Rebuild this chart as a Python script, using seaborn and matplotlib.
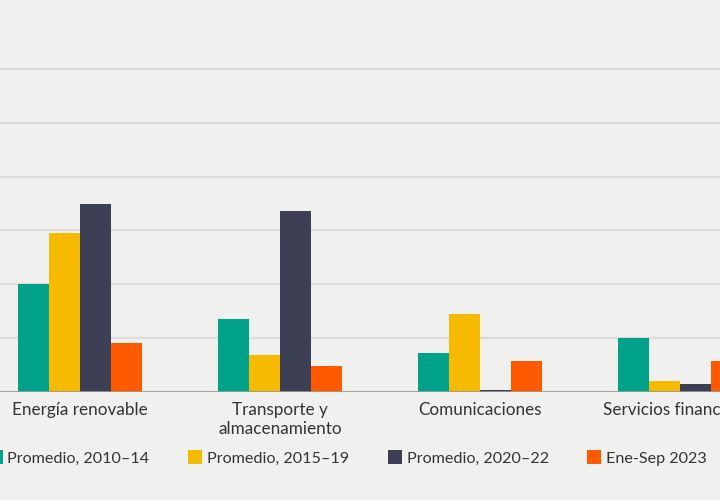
import matplotlib
matplotlib.use("Agg")
import matplotlib.pyplot as plt
import seaborn as sns
import pandas as pd

# data (grid units, one unit per gridline)
sectores = ["Energía renovable", "Transporte y\nalmacenamiento",
            "Comunicaciones", "Servicios financieros"]
periodos = ["Promedio, 2010–14", "Promedio, 2015–19",
            "Promedio, 2020–22", "Ene-Sep 2023"]
prom_2010_14 = [2.0, 1.36, 0.72, 1.0]
prom_2015_19 = [2.96, 0.69, 1.45, 0.21]
prom_2020_22 = [3.49, 3.36, 0.03, 0.14]
ene_sep_2023 = [0.91, 0.48, 0.58, 0.58]
colores = ["#00a28a", "#f6bb00", "#3d4055", "#ff5a00"]

series = [prom_2010_14, prom_2015_19, prom_2020_22, ene_sep_2023]
rows = []
for periodo, vals in zip(periodos, series):
    for sector, v in zip(sectores, vals):
        rows.append({"sector": sector, "periodo": periodo, "valor": v})
df = pd.DataFrame(rows)

bg = "#f0f1ef"
sns.set_theme(style="white")
plt.rcParams["font.family"] = ["Lato", "DejaVu Sans"]

fig = plt.figure(figsize=(7.2, 5), dpi=100, facecolor=bg)
ax = fig.add_axes([0, 0.216, 1, 0.784])
ax.set_facecolor(bg)

sns.barplot(data=df, x="sector", y="valor", hue="periodo",
            order=sectores, hue_order=periodos, palette=colores,
            width=0.62, gap=0, saturation=1, linewidth=0, ax=ax, zorder=3)

ax.set_xlim(-0.4, 3.2)
ax.set_ylim(0, 7.28)
ax.set_yticks(range(0, 7))
ax.yaxis.grid(True, color="#dcdddb", linewidth=1.6, zorder=0)
ax.axhline(0, color="#9a9a9a", linewidth=1.2, zorder=4)
for s in ax.spines.values():
    s.set_visible(False)
ax.set_xlabel("")
ax.set_ylabel("")
ax.tick_params(axis="x", length=0, pad=7, labelsize=12.3, labelcolor="#333333")
ax.tick_params(axis="y", length=0, labelleft=False)
for lab in ax.get_xticklabels():
    lab.set_linespacing(1.25)

sns.move_legend(ax, "center", bbox_to_anchor=(0.483, 0.084),
                bbox_transform=fig.transFigure, ncol=4, frameon=False,
                title=None, fontsize=11.6, handlelength=0.87, handleheight=0.87,
                handletextpad=0.3, columnspacing=2.4)
for t in ax.get_legend().get_texts():
    t.set_color("#333333")

fig.savefig("out.png", dpi=100, facecolor=bg)
